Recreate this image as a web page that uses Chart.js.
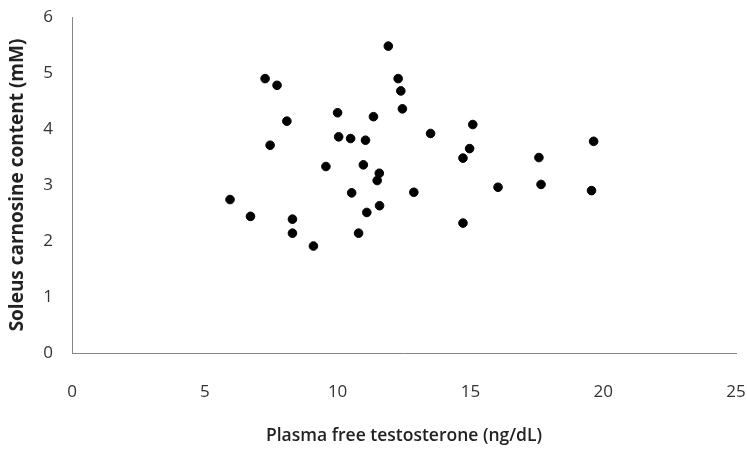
<!DOCTYPE html>
<html>
<head>
<meta charset="utf-8">
<script src="https://cdn.jsdelivr.net/npm/chart.js@4"></script>
<style>
  html, body { margin: 0; padding: 0; background: #fff; }
  #wrap { width: 747px; height: 449px; }
</style>
</head>
<body>
<div id="wrap"><canvas id="chart"></canvas></div>
<script>
// free testosterone (ng/dL) vs soleus carnosine (mM)
const testosterone = [
  11.91, 7.27, 7.72, 12.28, 12.38, 12.44, 10.0, 11.35, 8.09, 13.5,
  10.04, 10.49, 11.05, 7.46, 9.56, 10.97, 11.57, 11.49, 10.53, 12.87,
  5.95, 11.58, 11.1, 6.72, 8.3, 8.3, 10.79, 9.09,
  15.09, 19.64, 14.97, 14.72, 17.58, 16.04, 17.66, 19.56, 14.72
];
const carnosine = [
  5.48, 4.90, 4.78, 4.90, 4.68, 4.36, 4.29, 4.22, 4.14, 3.92,
  3.86, 3.83, 3.80, 3.71, 3.33, 3.36, 3.21, 3.08, 2.86, 2.87,
  2.74, 2.63, 2.51, 2.44, 2.39, 2.14, 2.14, 1.91,
  4.08, 3.78, 3.65, 3.48, 3.49, 2.96, 3.01, 2.90, 2.32
];
const xTitle = 'Plasma free testosterone (ng/dL)';
const yTitle = 'Soleus carnosine content (mM)';

const points = testosterone.map((x, i) => ({ x: x, y: carnosine[i] }));
const axisColor = '#868686';
const font = '"Open Sans", sans-serif';

new Chart(document.getElementById('chart'), {
  type: 'scatter',
  data: {
    datasets: [{
      data: points,
      backgroundColor: '#000',
      borderColor: '#000',
      pointRadius: 4.3,
      pointHoverRadius: 4.3
    }]
  },
  options: {
    responsive: true,
    maintainAspectRatio: false,
    animation: false,
    layout: { padding: { top: 17, right: 11, left: 0, bottom: 0 } },
    plugins: { legend: { display: false }, tooltip: { enabled: false } },
    scales: {
      x: {
        min: 0, max: 25,
        ticks: { stepSize: 5, color: '#333', padding: 22, font: { family: font, size: 17 } },
        grid: { display: false, drawOnChartArea: false, drawTicks: true, tickLength: 7, color: axisColor },
        border: { color: axisColor, width: 1 },
        title: { display: true, text: xTitle, color: '#222', padding: { top: 0, bottom: 2 },
                 font: { family: font, size: 17.5, weight: '600' } },
        afterFit: s => { s.height = 96; s.paddingLeft = 0; s.paddingRight = 0; }
      },
      y: {
        min: 0, max: 6,
        ticks: { stepSize: 1, color: '#333', padding: 12, font: { family: font, size: 17 } },
        grid: { display: false, drawOnChartArea: false, drawTicks: true, tickLength: 7, color: axisColor },
        border: { color: axisColor, width: 1 },
        title: { display: true, text: yTitle, color: '#222', padding: { top: 6, bottom: 0 },
                 font: { family: font, size: 19, weight: 'bold' } },
        afterFit: s => { s.width = 72; s.paddingTop = 0; s.paddingBottom = 0; }
      }
    }
  }
});
</script>
</body>
</html>
